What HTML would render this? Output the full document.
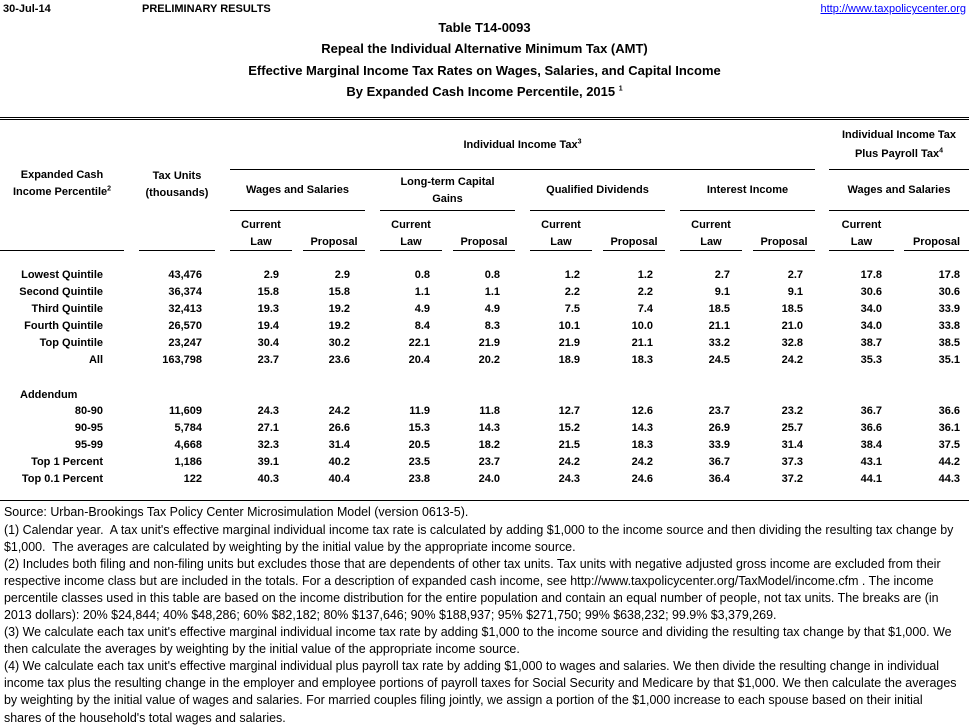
<!DOCTYPE html>
<html><head><style>
body{margin:0;width:969px;height:727px;background:#fff;position:relative;font-family:"Liberation Sans",sans-serif;color:#000;overflow:hidden}
.a{position:absolute;white-space:nowrap;line-height:14px}
.b{font-weight:bold;font-size:11px}
.t{font-weight:bold;font-size:13px;left:0;width:969px;text-align:center;line-height:16px}
.h{position:absolute;background:#000;height:1px}
.c{position:absolute;text-align:center;font-weight:bold;font-size:11px;line-height:17px;white-space:nowrap}
.r{position:absolute;left:0;width:969px;height:14px;font-weight:bold;font-size:11px}
.r span{position:absolute;top:0;white-space:nowrap}
.r span:nth-child(1){right:866px}.r span:nth-child(2){right:767px}.r span:nth-child(3){right:690px}.r span:nth-child(4){right:619px}
.r span:nth-child(5){right:539px}.r span:nth-child(6){right:469px}.r span:nth-child(7){right:389px}.r span:nth-child(8){right:316px}
.r span:nth-child(9){right:239px}.r span:nth-child(10){right:166px}.r span:nth-child(11){right:87px}.r span:nth-child(12){right:9px}
.f{position:absolute;left:4px;font-size:12.45px;white-space:nowrap;line-height:14px}
sup{font-size:7px;line-height:0}
</style></head><body>
<div class="a b" style="left:3px;top:2px">30-Jul-14</div>
<div class="a b" style="left:142px;top:2px">PRELIMINARY RESULTS</div>
<div class="a" style="right:3px;top:2px;font-size:11px;color:#00f;text-decoration:underline">http://www.taxpolicycenter.org</div>
<div class="a t" style="top:20px">Table T14-0093</div>
<div class="a t" style="top:41px">Repeal the Individual Alternative Minimum Tax (AMT)</div>
<div class="a t" style="top:63px">Effective Marginal Income Tax Rates on Wages, Salaries, and Capital Income</div>
<div class="a t" style="top:84px">By Expanded Cash Income Percentile, 2015 <sup>1</sup></div>

<div class="h" style="left:0;width:969px;top:117px"></div>
<div class="h" style="left:0;width:969px;top:119px"></div>
<div class="h" style="left:230px;width:585px;top:169px"></div>
<div class="h" style="left:829px;width:140px;top:169px"></div>
<div class="h" style="left:230px;width:135px;top:210px"></div>
<div class="h" style="left:380px;width:135px;top:210px"></div>
<div class="h" style="left:530px;width:135px;top:210px"></div>
<div class="h" style="left:680px;width:135px;top:210px"></div>
<div class="h" style="left:829px;width:140px;top:210px"></div>
<div class="h" style="left:0;width:124px;top:250px"></div>
<div class="h" style="left:139px;width:76px;top:250px"></div>
<div class="h" style="left:230px;width:62px;top:250px"></div>
<div class="h" style="left:303px;width:62px;top:250px"></div>
<div class="h" style="left:380px;width:62px;top:250px"></div>
<div class="h" style="left:453px;width:62px;top:250px"></div>
<div class="h" style="left:530px;width:62px;top:250px"></div>
<div class="h" style="left:603px;width:62px;top:250px"></div>
<div class="h" style="left:680px;width:62px;top:250px"></div>
<div class="h" style="left:753px;width:62px;top:250px"></div>
<div class="h" style="left:829px;width:65px;top:250px"></div>
<div class="h" style="left:904px;width:65px;top:250px"></div>
<div class="h" style="left:0;width:969px;top:500px"></div>

<div class="c" style="left:0;width:124px;top:167px">Expanded Cash<br>Income Percentile<sup>2</sup></div>
<div class="c" style="left:130px;width:94px;top:168px">Tax Units<br>(thousands)</div>
<div class="c" style="left:380px;width:285px;top:137px">Individual Income Tax<sup>3</sup></div>
<div class="c" style="left:829px;width:140px;top:126px;line-height:19px">Individual Income Tax<br>Plus Payroll Tax<sup>4</sup></div>
<div class="c" style="left:230px;width:135px;top:182px">Wages and Salaries</div>
<div class="c" style="left:380px;width:135px;top:174px">Long-term Capital<br>Gains</div>
<div class="c" style="left:530px;width:135px;top:182px">Qualified Dividends</div>
<div class="c" style="left:680px;width:135px;top:182px">Interest Income</div>
<div class="c" style="left:829px;width:140px;top:182px">Wages and Salaries</div>

<div class="c" style="left:230px;width:62px;top:217px">Current<br>Law</div>
<div class="c" style="left:303px;width:62px;top:234px">Proposal</div>
<div class="c" style="left:380px;width:62px;top:217px">Current<br>Law</div>
<div class="c" style="left:453px;width:62px;top:234px">Proposal</div>
<div class="c" style="left:530px;width:62px;top:217px">Current<br>Law</div>
<div class="c" style="left:603px;width:62px;top:234px">Proposal</div>
<div class="c" style="left:680px;width:62px;top:217px">Current<br>Law</div>
<div class="c" style="left:753px;width:62px;top:234px">Proposal</div>
<div class="c" style="left:829px;width:65px;top:217px">Current<br>Law</div>
<div class="c" style="left:904px;width:65px;top:234px">Proposal</div>

<div class="r" style="top:269px"><span>Lowest Quintile</span><span>43,476</span><span>2.9</span><span>2.9</span><span>0.8</span><span>0.8</span><span>1.2</span><span>1.2</span><span>2.7</span><span>2.7</span><span>17.8</span><span>17.8</span></div>
<div class="r" style="top:286px"><span>Second Quintile</span><span>36,374</span><span>15.8</span><span>15.8</span><span>1.1</span><span>1.1</span><span>2.2</span><span>2.2</span><span>9.1</span><span>9.1</span><span>30.6</span><span>30.6</span></div>
<div class="r" style="top:303px"><span>Third Quintile</span><span>32,413</span><span>19.3</span><span>19.2</span><span>4.9</span><span>4.9</span><span>7.5</span><span>7.4</span><span>18.5</span><span>18.5</span><span>34.0</span><span>33.9</span></div>
<div class="r" style="top:320px"><span>Fourth Quintile</span><span>26,570</span><span>19.4</span><span>19.2</span><span>8.4</span><span>8.3</span><span>10.1</span><span>10.0</span><span>21.1</span><span>21.0</span><span>34.0</span><span>33.8</span></div>
<div class="r" style="top:337px"><span>Top Quintile</span><span>23,247</span><span>30.4</span><span>30.2</span><span>22.1</span><span>21.9</span><span>21.9</span><span>21.1</span><span>33.2</span><span>32.8</span><span>38.7</span><span>38.5</span></div>
<div class="r" style="top:354px"><span>All</span><span>163,798</span><span>23.7</span><span>23.6</span><span>20.4</span><span>20.2</span><span>18.9</span><span>18.3</span><span>24.5</span><span>24.2</span><span>35.3</span><span>35.1</span></div>
<div class="a b" style="left:20px;top:388px">Addendum</div>
<div class="r" style="top:405px"><span>80-90</span><span>11,609</span><span>24.3</span><span>24.2</span><span>11.9</span><span>11.8</span><span>12.7</span><span>12.6</span><span>23.7</span><span>23.2</span><span>36.7</span><span>36.6</span></div>
<div class="r" style="top:422px"><span>90-95</span><span>5,784</span><span>27.1</span><span>26.6</span><span>15.3</span><span>14.3</span><span>15.2</span><span>14.3</span><span>26.9</span><span>25.7</span><span>36.6</span><span>36.1</span></div>
<div class="r" style="top:439px"><span>95-99</span><span>4,668</span><span>32.3</span><span>31.4</span><span>20.5</span><span>18.2</span><span>21.5</span><span>18.3</span><span>33.9</span><span>31.4</span><span>38.4</span><span>37.5</span></div>
<div class="r" style="top:456px"><span>Top 1 Percent</span><span>1,186</span><span>39.1</span><span>40.2</span><span>23.5</span><span>23.7</span><span>24.2</span><span>24.2</span><span>36.7</span><span>37.3</span><span>43.1</span><span>44.2</span></div>
<div class="r" style="top:473px"><span>Top 0.1 Percent</span><span>122</span><span>40.3</span><span>40.4</span><span>23.8</span><span>24.0</span><span>24.3</span><span>24.6</span><span>36.4</span><span>37.2</span><span>44.1</span><span>44.3</span></div>

<div class="f" style="top:505px">Source: Urban-Brookings Tax Policy Center Microsimulation Model (version 0613-5).</div>
<div class="f" style="top:523px">(1) Calendar year.&nbsp; A tax unit's effective marginal individual income tax rate is calculated by adding $1,000 to the income source and then dividing the resulting tax change by</div>
<div class="f" style="top:540px">$1,000.&nbsp; The averages are calculated by weighting by the initial value by the appropriate income source.</div>
<div class="f" style="top:557px">(2) Includes both filing and non-filing units but excludes those that are dependents of other tax units. Tax units with negative adjusted gross income are excluded from their</div>
<div class="f" style="top:574px">respective income class but are included in the totals. For a description of expanded cash income, see http://www.taxpolicycenter.org/TaxModel/income.cfm . The income</div>
<div class="f" style="top:591px">percentile classes used in this table are based on the income distribution for the entire population and contain an equal number of people, not tax units. The breaks are (in</div>
<div class="f" style="top:608px">2013 dollars): 20% $24,844; 40% $48,286; 60% $82,182; 80% $137,646; 90% $188,937; 95% $271,750; 99% $638,232; 99.9% $3,379,269.</div>
<div class="f" style="top:625px">(3) We calculate each tax unit's effective marginal individual income tax rate by adding $1,000 to the income source and dividing the resulting tax change by that $1,000. We</div>
<div class="f" style="top:642px">then calculate the averages by weighting by the initial value of the appropriate income source.</div>
<div class="f" style="top:659px">(4) We calculate each tax unit's effective marginal individual plus payroll tax rate by adding $1,000 to wages and salaries. We then divide the resulting change in individual</div>
<div class="f" style="top:676px">income tax plus the resulting change in the employer and employee portions of payroll taxes for Social Security and Medicare by that $1,000. We then calculate the averages</div>
<div class="f" style="top:693px">by weighting by the initial value of wages and salaries. For married couples filing jointly, we assign a portion of the $1,000 increase to each spouse based on their initial</div>
<div class="f" style="top:711px">shares of the household's total wages and salaries.</div>
</body></html>
